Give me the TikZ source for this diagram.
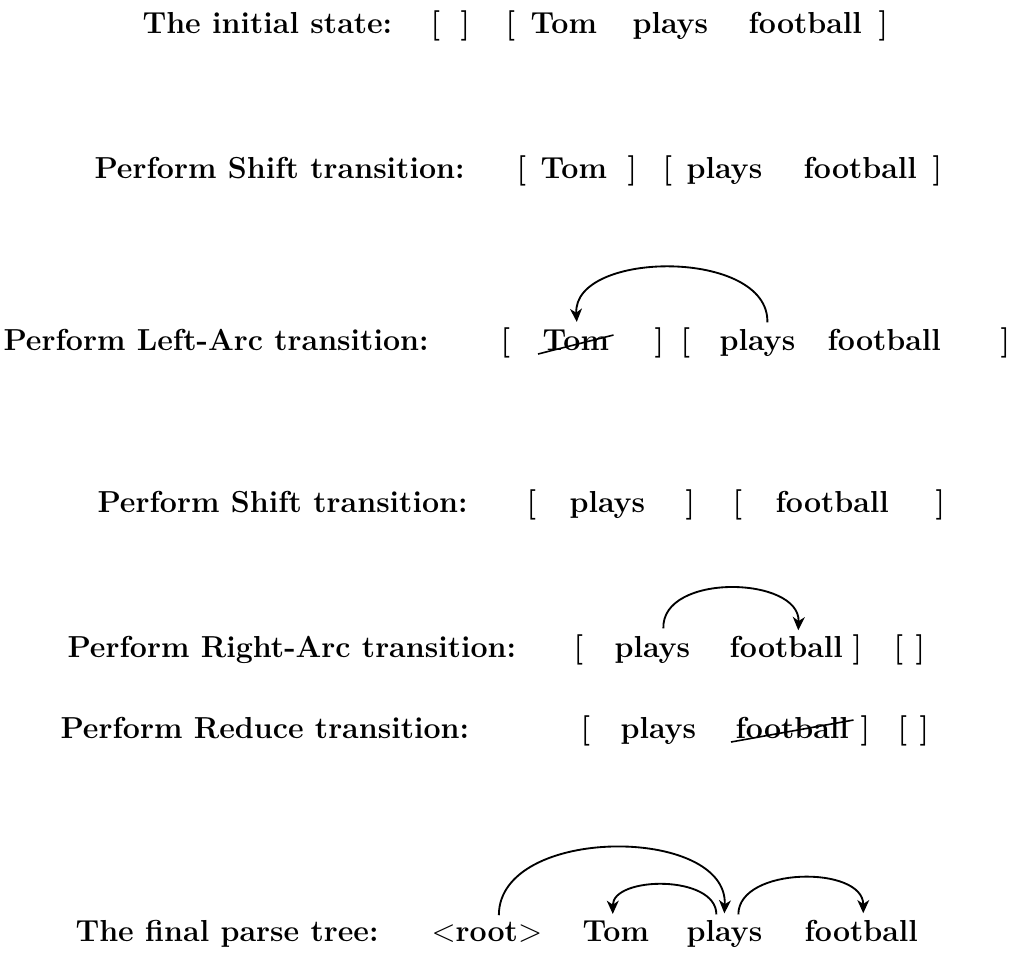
\documentclass[tikz,border=0pt]{standalone}
\usetikzlibrary{arrows.meta}
\begin{document}
\begin{tikzpicture}[x=0.3788pt,y=-0.3788pt,
  w/.style={anchor=base west, inner sep=0pt, font=\fontsize{11.5}{14}\selectfont\bfseries},
  arc/.style={-{Stealth[length=5pt,width=4.5pt,inset=1.5pt]}, line width=0.7pt},
  strike/.style={line width=0.6pt}]
\useasboundingbox (0,0) rectangle (1019,952);
% Row 1
\node[w] (l1) at (142,33) {The initial state:};
\node[w] (b1a) at (430,33) {[};
\node[w] (b1b) at (460,33) {]};
\node[w] (b1c) at (505,33) {[};
\node[w] (tom1) at (530,33) {Tom};
\node[w] (plays1) at (632,33) {plays};
\node[w] (foot1) at (748,33) {football};
\node[w] (b1d) at (878,33) {]};
% Row 2
\node[w] (l2) at (94,178) {Perform Shift transition:};
\node[w] (b2a) at (516,178) {[};
\node[w] (tom2) at (540,178) {Tom};
\node[w] (b2b) at (627,178) {]};
\node[w] (b2c) at (662,178) {[};
\node[w] (plays2) at (686,178) {plays};
\node[w] (foot2) at (803,178) {football};
\node[w] (b2d) at (932,178) {]};
% Row 3
\node[w] (l3) at (3,350) {Perform Left-Arc transition:};
\node[w] (b3a) at (500,350) {[};
\node[w] (tom3) at (542,350) {Tom};
\node[w] (b3b) at (654,350) {]};
\node[w] (b3c) at (680,350) {[};
\node[w] (plays3) at (719,350) {plays};
\node[w] (foot3) at (827,350) {football};
\node[w] (b3d) at (1000,350) {]};
\draw[strike] ([shift={(-4,4)}]tom3.base west) -- ([shift={(4,-15)}]tom3.base east);
\draw[arc] ([shift={(10,-6)}]plays3.north) .. controls +(2,-74) and +(-4,-72) .. ([shift={(1,-7)}]tom3.north);
% Row 4
\node[w] (l4) at (97,512) {Perform Shift transition:};
\node[w] (b4a) at (526,512) {[};
\node[w] (plays4) at (569,512) {plays};
\node[w] (b4b) at (685,512) {]};
\node[w] (b4c) at (732,512) {[};
\node[w] (foot4) at (775,512) {football};
\node[w] (b4d) at (935,512) {]};
% Row 5
\node[w] (l5) at (67,657) {Perform Right-Arc transition:};
\node[w] (b5a) at (573,657) {[};
\node[w] (plays5) at (614,657) {plays};
\node[w] (foot5) at (729,657) {football};
\node[w] (b5b) at (852,657) {]};
\node[w] (b5c) at (893,657) {[};
\node[w] (b5d) at (915,657) {]};
\draw[arc] ([shift={(11,-7)}]plays5.north) .. controls +(-2,-56) and +(2,-54) .. ([shift={(12,-5)}]foot5.north);
% Row 6
\node[w] (l6) at (60,738) {Perform Reduce transition:};
\node[w] (b6a) at (580,738) {[};
\node[w] (plays6) at (620,738) {plays};
\node[w] (foot6) at (735,738) {football};
\node[w] (b6b) at (860,738) {]};
\node[w] (b6c) at (897,738) {[};
\node[w] (b6d) at (919,738) {]};
\draw[strike] ([shift={(-4,4)}]foot6.base west) -- ([shift={(4,-18)}]foot6.base east);
% Row 7
\node[w] (l7) at (75,941) {The final parse tree:};
\node[w] (root) at (431,941) {$<$root$>$};
\node[w] (tom7) at (582,941) {Tom};
\node[w] (plays7) at (686,941) {plays};
\node[w] (foot7) at (804,941) {football};
\draw[arc] ([shift={(12,-6)}]root.north) .. controls +(0,-90) and +(4,-88) .. ([shift={(0,-6)}]plays7.north);
\draw[arc] ([shift={(-8,-5)}]plays7.north) .. controls +(0,-40) and +(0,-38) .. ([shift={(-3,-6)}]tom7.north);
\draw[arc] ([shift={(14,-5)}]plays7.north) .. controls +(0,-48) and +(0,-48) .. ([shift={(2,-6)}]foot7.north);
\end{tikzpicture}
\end{document}
